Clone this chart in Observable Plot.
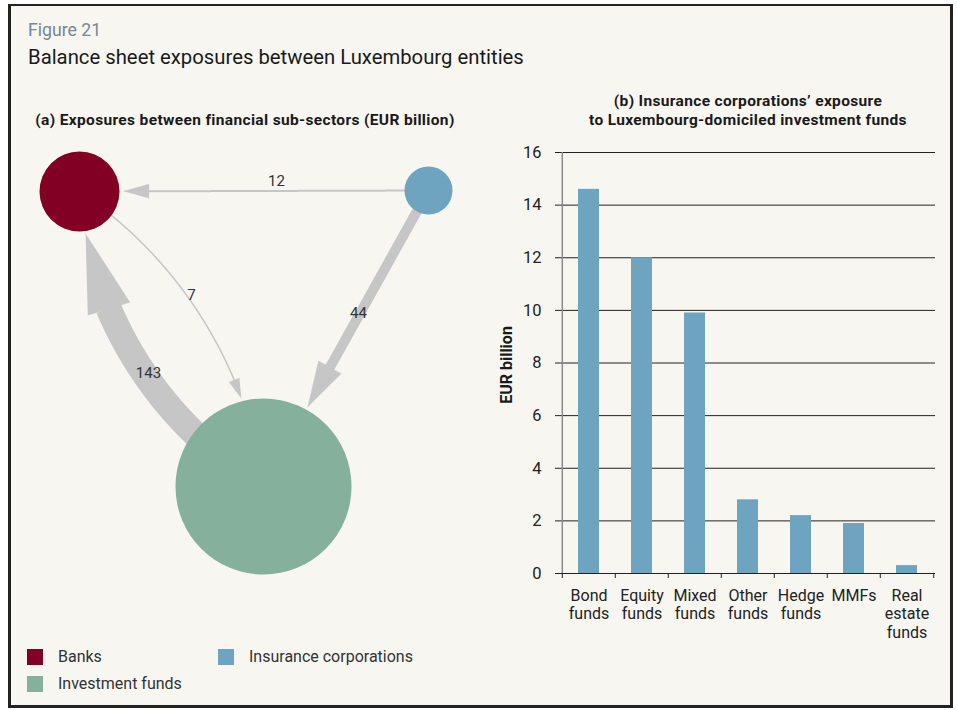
<!DOCTYPE html>
<html><head><meta charset="utf-8">
<script src="https://cdn.jsdelivr.net/npm/d3@7"></script>
<script src="https://cdn.jsdelivr.net/npm/@observablehq/plot@0.6"></script>
<style>
html,body{margin:0;padding:0;background:#fff;}
body{width:957px;height:710px;position:relative;overflow:hidden;font-family:Roboto,"Noto Sans",sans-serif;}
#frame{position:absolute;left:8px;top:4px;width:945px;height:704px;box-sizing:border-box;border:3px solid #222;border-top-width:2px;background:#f7f6f1;}
.t{position:absolute;white-space:nowrap;line-height:1;}
#fig{left:28px;top:22.4px;font-size:17.7px;color:#788894;}
#title{left:28px;top:46.9px;font-size:20.3px;color:#1a1a1a;}
#ta{left:15px;width:460px;text-align:center;top:113px;font-size:15.5px;letter-spacing:0.35px;font-weight:bold;color:#1a1a1a;}
#tb{left:548px;width:400px;text-align:center;top:92.3px;font-size:15.5px;letter-spacing:0.34px;line-height:18.3px;font-weight:bold;color:#1a1a1a;white-space:normal;}
.sw{position:absolute;width:16px;height:16px;}
.lg{position:absolute;font-size:16px;line-height:1;color:#333;white-space:nowrap;}
svg.chart{position:absolute;}
</style></head><body>
<div id="frame"></div>
<div class="t" id="fig">Figure 21</div>
<div class="t" id="title">Balance sheet exposures between Luxembourg entities</div>
<div class="t" id="ta">(a) Exposures between financial sub-sectors (EUR billion)</div>
<div class="t" id="tb">(b) Insurance corporations’ exposure<br>to Luxembourg-domiciled investment funds</div>
<div id="legend"></div>
<script>
// ---------- data ----------
const nodeNames = ["Banks", "Insurance corporations", "Investment funds"];
const nodeColors = ["#830025", "#6fa4c1", "#84b09c"];
const flowFrom = ["Investment funds", "Insurance corporations", "Insurance corporations", "Banks"];
const flowTo = ["Banks", "Investment funds", "Banks", "Investment funds"];
const flowValues = [143, 44, 12, 7];

const fundCategories = ["Bond funds", "Equity funds", "Mixed funds", "Other funds", "Hedge funds", "MMFs", "Real estate funds"];
const fundTickLabels = ["Bond\nfunds", "Equity\nfunds", "Mixed\nfunds", "Other\nfunds", "Hedge\nfunds", "MMFs", "Real\nestate\nfunds"];
const fundExposure = [14.6, 12.0, 9.9, 2.8, 2.2, 1.9, 0.3];
const yTicks = [0, 2, 4, 6, 8, 10, 12, 14, 16];

// ---------- layout / style (kept apart from data) ----------
const nodeLayout = {
  "Banks": {x: 79, y: 191, r: 40},
  "Insurance corporations": {x: 428, y: 190, r: 24},
  "Investment funds": {x: 263, y: 486, r: 88}
};
const arrowStyle = [
  {bend: 27, width: 26, headLen: 78, headHalf: 22, gap: 2.5, label: [148, 373]},
  {bend: 0, width: 10, headLen: 45, headHalf: 13, gap: 3, label: [358, 313]},
  {bend: 0, width: 2, headLen: 25, headHalf: 7, gap: 4, label: [276, 181]},
  {bend: 24, width: 1.5, headLen: 19, headHalf: 5.5, gap: 3, label: [191, 295]}
];
const legendPos = {"Banks": [27, 649], "Insurance corporations": [218, 649], "Investment funds": [27, 676]};
const arrowGrey = "#c6c6c6";
const barColor = "#6fa4c1";

// ---------- network geometry ----------
function arcPoints(A, B, bendDeg, n) {
  const dx = B.x - A.x, dy = B.y - A.y, L = Math.hypot(dx, dy);
  const pts = [];
  if (!bendDeg) {
    for (let i = 0; i <= n; i++) { const t = i / n; pts.push({x: A.x + dx * t, y: A.y + dy * t}); }
    return pts;
  }
  const th = bendDeg * Math.PI / 180;
  const ux = dx / L, uy = dy / L, nx = uy, ny = -ux;
  const r = L / (2 * Math.sin(th));
  const mx = (A.x + B.x) / 2, my = (A.y + B.y) / 2;
  const cx = mx - nx * r * Math.cos(th), cy = my - ny * r * Math.cos(th);
  const a0 = Math.atan2(A.y - cy, A.x - cx);
  const a1 = Math.atan2(B.y - cy, B.x - cx);
  let d = a1 - a0;
  while (d > Math.PI) d -= 2 * Math.PI;
  while (d < -Math.PI) d += 2 * Math.PI;
  for (let i = 0; i <= n; i++) { const a = a0 + d * i / n; pts.push({x: cx + r * Math.cos(a), y: cy + r * Math.sin(a)}); }
  return pts;
}
function buildArrow(A, B, st, id) {
  const pts = arcPoints(A, B, st.bend, 800);
  const R = B.r + st.gap;
  let k = pts.length - 1;
  while (k > 0 && Math.hypot(pts[k].x - B.x, pts[k].y - B.y) < R) k--;
  const tip = pts[k];
  let j = k;
  while (j > 0 && Math.hypot(pts[j].x - tip.x, pts[j].y - tip.y) < st.headLen) j--;
  const base = pts[j];
  const ddx = tip.x - base.x, ddy = tip.y - base.y, dl = Math.hypot(ddx, ddy);
  const px = -ddy / dl, py = ddx / dl;
  const head = [tip,
    {x: base.x + px * st.headHalf, y: base.y + py * st.headHalf},
    {x: base.x - px * st.headHalf, y: base.y - py * st.headHalf}].map(p => ({...p, id}));
  const shaft = pts.slice(0, Math.min(j + 3, k)).map(p => ({...p, id}));
  return {shaft, head};
}

const nodes = nodeNames.map((name, i) => ({name, color: nodeColors[i], ...nodeLayout[name]}));
const flows = flowValues.map((v, i) => ({from: flowFrom[i], to: flowTo[i], value: v, style: arrowStyle[i]}));
const arrowGeo = flows.map((f, i) => buildArrow(nodeLayout[f.from], nodeLayout[f.to], f.style, i));

const W1 = 480, H1 = 480, top1 = 130;
const netMarks = [];
arrowGeo.forEach((g, i) => {
  netMarks.push(Plot.line(g.shaft, {x: "x", y: "y", stroke: arrowGrey, strokeWidth: flows[i].style.width, strokeLinecap: "butt", curve: "linear"}));
  netMarks.push(Plot.line(g.head, {x: "x", y: "y", fill: arrowGrey, stroke: arrowGrey, strokeWidth: 0.5, strokeLinejoin: "miter"}));
});
netMarks.push(Plot.dot(nodes, {x: "x", y: "y", r: "r", fill: "color", stroke: null}));
netMarks.push(Plot.text(flows, {x: d => d.style.label[0], y: d => d.style.label[1], text: d => String(d.value), fontSize: 15, fill: "#333"}));

const net = Plot.plot({
  width: W1, height: H1, margin: 0,
  x: {domain: [0, W1], range: [0, W1], axis: null},
  y: {domain: [top1, top1 + H1], range: [0, H1], axis: null},
  r: {type: "linear", domain: [0, 100], range: [0, 100]},
  color: {type: "identity"},
  style: {background: "transparent", fontFamily: "Roboto", overflow: "visible"},
  marks: netMarks
});
net.classList.add("chart");
net.style.left = "0px"; net.style.top = top1 + "px";
document.body.appendChild(net);

// ---------- bar chart ----------
const W2 = 470, H2 = 510, ml = 81, mr = 15, mt = 12, mb = 77;
const step = (W2 - ml - mr) / fundCategories.length;
const bars = fundCategories.map((c, i) => ({category: c, value: fundExposure[i]}));
const tickLabel = new Map(fundCategories.map((c, i) => [c, fundTickLabels[i]]));
const last = fundCategories[fundCategories.length - 1];

const bar = Plot.plot({
  width: W2, height: H2, marginLeft: ml, marginRight: mr, marginTop: mt, marginBottom: mb,
  x: {domain: fundCategories, paddingInner: 0.6, paddingOuter: 0.3, axis: null},
  y: {domain: [0, 16], axis: null},
  style: {background: "transparent", fontFamily: "Roboto", overflow: "visible"},
  marks: [
    Plot.ruleY(yTicks, {stroke: "#222", strokeWidth: 1}),
    Plot.ruleX([fundCategories[0]], {dx: -step / 2, stroke: "#8c8c8c", strokeWidth: 1.5}),
    Plot.barY(bars, {x: "category", y: "value", fill: barColor}),
    Plot.axisY({ticks: yTicks, tickSize: 6, tickPadding: 14, fontSize: 16.5, color: "#222", label: null}),
    Plot.axisX({ticks: fundCategories, tickSize: 5, tickFormat: () => "", dx: -step / 2, color: "#222", label: null}),
    Plot.axisX({ticks: [last], tickSize: 5, tickFormat: () => "", dx: step / 2, color: "#222", label: null}),
    Plot.axisX({ticks: fundCategories, tickSize: 0, tickPadding: 14, fontSize: 16, lineHeight: 1.16, tickFormat: d => tickLabel.get(d), color: "#222", label: null}),
    Plot.text(["EUR billion"], {frameAnchor: "left", textAnchor: "middle", rotate: -90, dx: -55, dy: 2, fontWeight: "bold", fontSize: 16, fill: "#1a1a1a"})
  ]
});
bar.classList.add("chart");
bar.style.left = "480px"; bar.style.top = "140px";
document.body.appendChild(bar);

// ---------- legend ----------
const lg = document.getElementById("legend");
nodes.forEach(n => {
  const [lx, ly] = legendPos[n.name];
  const s = document.createElement("div");
  s.className = "sw"; s.style.left = lx + "px"; s.style.top = ly + "px"; s.style.background = n.color;
  const t = document.createElement("div");
  t.className = "lg"; t.style.left = (lx + 31) + "px"; t.style.top = (ly - 0.1) + "px"; t.textContent = n.name;
  lg.appendChild(s); lg.appendChild(t);
});
</script>
</body></html>
